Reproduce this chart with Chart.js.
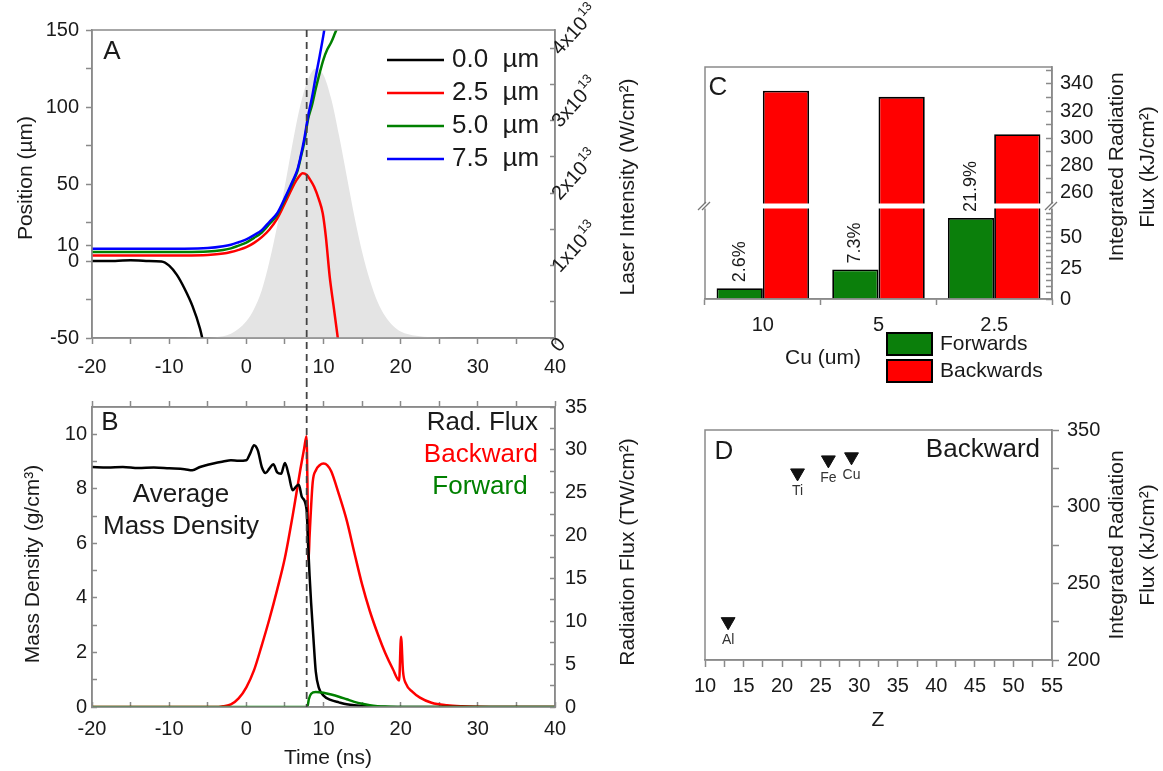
<!DOCTYPE html>
<html>
<head>
<meta charset="utf-8">
<script src="https://cdn.jsdelivr.net/npm/chart.js@4.4.1/dist/chart.umd.min.js"></script>
<style>
  body { margin: 0; background: #fff; width: 1163px; height: 771px; position: relative; overflow: hidden; }
  canvas { position: absolute; }
</style>
</head>
<body>
<canvas id="chartA" width="690" height="380" style="left:0;top:0;width:690px;height:380px"></canvas>
<canvas id="chartB" width="690" height="391" style="left:0;top:380px;width:690px;height:391px"></canvas>
<canvas id="chartC" width="483" height="400" style="left:680px;top:0;width:483px;height:400px"></canvas>
<canvas id="chartD" width="483" height="371" style="left:680px;top:400px;width:483px;height:371px"></canvas>
<script>
// ---- panel A: front position for each Cu thickness + laser pulse ----
const thicknessLabels = ['0.0  µm', '2.5  µm', '5.0  µm', '7.5  µm'];
const thicknessColors = ['#000000', '#ff0000', '#008000', '#0000ff'];

const t00 = [-20, -17, -15, -13, -11, -10, -9, -8, -7, -6, -5.5, -5];
const pos00 = [0, 0, 0.5, 0, -0.3, -3, -9, -18, -29, -44, -55, -67];

const t25 = [-20, -8, -5, -3, -2, -1, 0, 1, 2, 3, 4, 5, 6, 6.5, 7, 7.3, 7.8, 8.3, 8.8, 9.4, 9.9, 10.3, 10.8, 11.3, 11.8, 12.3];
const pos25 = [3.6, 3.6, 3.9, 4.8, 5.8, 7.2, 9, 11.8, 15.5, 20.5, 27.5, 37.5, 48, 52.5, 56, 57, 56, 52.5, 48, 40, 31, 16, -10, -29, -48, -67];

const t50 = [-20, -8, -5, -3, -2, -1, 0, 1, 2, 3, 4, 5, 6, 6.6, 7, 7.5, 8, 8.5, 9, 9.5, 10, 10.5, 11, 11.5, 12];
const pos50 = [5.8, 5.8, 6.1, 7.2, 8.2, 10, 12, 15, 18.5, 24, 30, 40, 51, 58, 66, 77, 92, 101, 112, 122, 131, 137.5, 142, 148, 154];

const t75 = [-20, -8, -5, -3, -2, -1, 0, 1, 2, 3, 4, 5, 6, 6.6, 7, 7.5, 8, 8.5, 9, 9.5, 10, 10.4];
const pos75 = [8, 8, 8.4, 9.6, 10.6, 12.2, 14, 16.8, 20, 25.5, 31, 41, 52, 59, 67, 79, 94, 106, 120, 133, 147, 160];

// laser intensity, units of 1e13 W/cm2
const laserTime = [-8, -6, -4, -2, 0, 1, 2, 3, 4, 5, 6, 7, 8, 9, 10, 11, 12, 13, 14, 15, 16, 17, 18, 19, 20, 22, 24, 26, 28];
const laserIntensity = [0, 0.002, 0.011, 0.058, 0.23, 0.4, 0.66, 1.06, 1.55, 2.1, 2.69, 3.21, 3.57, 3.72, 3.63, 3.3, 2.8, 2.24, 1.68, 1.19, 0.8, 0.5, 0.3, 0.17, 0.09, 0.03, 0.01, 0.003, 0];

const dashedTime = 7.82;

const timeTicks = [-20, -10, 0, 10, 20, 30, 40];
const timeMinorTicks = [-15, -5, 5, 15, 25, 35];
const positionTicks = [-50, 0, 10, 50, 100, 150];
const positionMinorTicks = [-25, 25, 75, 125];
const intensityTicks = [0, 1, 2, 3, 4];
const intensityMinorTicks = [0.5, 1.5, 2.5, 3.5];

// ---- panel B: mass density and radiation flux ----
const tDensity = [-20, -18, -16, -14, -12, -10, -8, -7, -6, -5, -4, -3, -2, -1, 0, 0.5, 1, 1.5, 2, 2.5, 3, 3.5, 4, 4.5, 5, 5.5, 6, 6.5, 6.8, 7.2, 7.8, 8.0, 8.2, 8.4, 8.7, 9.0, 9.4, 10, 11, 12, 13, 14, 15, 17, 20, 30, 40];
const massDensity = [8.8, 8.78, 8.8, 8.76, 8.78, 8.75, 8.72, 8.68, 8.8, 8.88, 8.95, 9.0, 9.05, 9.03, 9.05, 9.3, 9.6, 9.4, 8.8, 8.58, 8.75, 8.9, 8.6, 8.55, 8.95, 8.5, 7.95, 8.1, 8.15, 7.7, 7.25, 6.0, 4.8, 3.8, 2.5, 1.3, 0.7, 0.42, 0.25, 0.17, 0.1, 0.06, 0.04, 0.01, 0, 0, 0];

const tBackward = [-20, -6, -4, -3, -2, -1, 0, 1, 2, 3, 4, 5, 6, 6.5, 7, 7.5, 7.8, 7.95, 8.05, 8.2, 8.6, 9, 9.5, 10, 10.5, 11, 12, 13, 14, 15, 16, 17, 18, 19, 19.8, 20.05, 20.3, 20.7, 21.5, 22.5, 24, 26, 28, 30, 33, 40];
const backwardFluxT = [0, 0, 0, 0.1, 0.3, 1.0, 2.3, 4.3, 7.2, 10.3, 13.7, 17.4, 22.3, 25, 27.7, 30.2, 31.6, 24, 17, 20, 26.2, 27.6, 28.2, 28.4, 28.2, 27.5, 24.8, 21.8, 18, 14.3, 11.2, 8.6, 6.3, 4.4, 3.1, 8.2, 4.2, 2.7, 1.8, 1.1, 0.5, 0.2, 0.08, 0.03, 0, 0];

const tForward = [-20, 7.9, 8.1, 8.4, 9, 10, 11, 12, 13, 14, 15, 16, 17, 18, 20, 25, 40];
const forwardFluxT = [0, 0, 0.9, 1.55, 1.75, 1.65, 1.45, 1.2, 0.9, 0.6, 0.37, 0.2, 0.1, 0.05, 0, 0, 0];

const densityTicks = [0, 2, 4, 6, 8, 10];
const densityMinorTicks = [1, 3, 5, 7, 9];
const fluxTicks = [0, 5, 10, 15, 20, 25, 30, 35];
const fluxMinorTicks = [2.5, 7.5, 12.5, 17.5, 22.5, 27.5, 32.5];

// ---- panel C: integrated flux vs Cu thickness ----
const cuThickness = ['10', '5', '2.5'];
const forwardIntegrated = [8.8, 24.1, 66.2];
const backwardIntegrated = [335, 330.5, 303];
const forwardShare = ['2.6%', '7.3%', '21.9%'];
const lowFluxMax = 76;
const lowFluxTicks = [0, 25, 50];
const lowFluxMinorTicks = [5, 10, 15, 20, 30, 35, 40, 45, 55, 60, 65, 70, 75];
const highFluxMin = 250;
const highFluxTicks = [260, 280, 300, 320, 340];
const highFluxMinorTicks = [270, 290, 310, 330, 350];

// ---- panel D: backward integrated flux vs Z ----
const elements = ['Al', 'Ti', 'Fe', 'Cu'];
const atomicNumber = [13, 22, 26, 29];
const backwardByZ = [225, 322, 330.5, 332.5];
const zTicks = [10, 15, 20, 25, 30, 35, 40, 45, 50, 55];
const zMinorTicks = [12.5, 17.5, 22.5, 27.5, 32.5, 37.5, 42.5, 47.5, 52.5];
const zFluxTicks = [200, 250, 300, 350];
const zFluxMinorTicks = [225, 275, 325];

// ------------------------------------------------------------------
const fontFamily = '"Liberation Sans", Arial, Helvetica, sans-serif';
const axisColor = '#8a8a8a';
const textColor = '#1a1a1a';
Chart.defaults.font.family = fontFamily;
Chart.defaults.color = textColor;
Chart.defaults.animation = false;
Chart.defaults.responsive = false;
Chart.defaults.plugins.legend.display = false;
Chart.defaults.plugins.tooltip.enabled = false;

const pts = (xs, ys) => xs.map((x, i) => ({ x, y: ys[i] }));

function linAxis({ position, min, max, major, minor, tl, pad = 4, size = 20, fit, labels = true, stack, stackWeight }) {
  const horizontal = position === 'top' || position === 'bottom';
  const cfg = {
    type: 'linear', position, min, max,
    border: { color: axisColor, width: 1.5 },
    grid: { drawOnChartArea: false, drawTicks: true, tickLength: tl, tickColor: axisColor, tickWidth: 1.5 },
    ticks: {
      display: labels, autoSkip: false, padding: pad, color: textColor, font: { family: fontFamily, size },
      minRotation: 0, maxRotation: 0,
      callback: v => major.includes(v) ? String(v) : ''
    },
    afterBuildTicks: s => { s.ticks = major.concat(minor).sort((a, b) => a - b).map(v => ({ value: v })); },
    afterFit: s => { if (horizontal) s.height = fit; else s.width = fit; }
  };
  if (stack) { cfg.stack = stack; cfg.stackWeight = stackWeight; }
  return cfg;
}

function txt(ctx, s, x, y, size, opts = {}) {
  ctx.save();
  ctx.font = `${size}px ${fontFamily}`;
  ctx.fillStyle = opts.color || textColor;
  ctx.textAlign = opts.align || 'center';
  ctx.textBaseline = opts.baseline || 'middle';
  ctx.translate(x, y);
  if (opts.rot) ctx.rotate(opts.rot);
  ctx.fillText(s, 0, 0);
  ctx.restore();
}

function frame(ctx, a) {
  ctx.save();
  ctx.strokeStyle = axisColor;
  ctx.lineWidth = 1.5;
  ctx.strokeRect(a.left, a.top, a.right - a.left, a.bottom - a.top);
  ctx.restore();
}

function dashed(ctx, x, y1, y2) {
  ctx.save();
  ctx.strokeStyle = '#444';
  ctx.lineWidth = 1.8;
  ctx.setLineDash([7, 5]);
  ctx.beginPath();
  ctx.moveTo(x, y1);
  ctx.lineTo(x, y2);
  ctx.stroke();
  ctx.restore();
}

const UP = -Math.PI / 2;

// ---------------- chart A ----------------
const lineSet = (label, xs, ys, color, order) => ({
  label, data: pts(xs, ys), borderColor: color, borderWidth: 2.5, pointRadius: 0,
  cubicInterpolationMode: 'monotone', yAxisID: 'y', order
});

new Chart(document.getElementById('chartA'), {
  type: 'line',
  data: {
    datasets: [
      { label: 'laser', data: pts(laserTime, laserIntensity), yAxisID: 'yI', fill: 'origin',
        backgroundColor: '#e4e4e4', borderWidth: 0, pointRadius: 0, cubicInterpolationMode: 'monotone', order: 10 },
      lineSet(thicknessLabels[0], t00, pos00, thicknessColors[0], 4),
      lineSet(thicknessLabels[1], t25, pos25, thicknessColors[1], 3),
      lineSet(thicknessLabels[2], t50, pos50, thicknessColors[2], 2),
      lineSet(thicknessLabels[3], t75, pos75, thicknessColors[3], 1)
    ]
  },
  options: {
    layout: { padding: { top: 30, left: 0, right: 0, bottom: 0 } },
    scales: {
      x: linAxis({ position: 'bottom', min: -20, max: 40, major: timeTicks, minor: timeMinorTicks, tl: 6, pad: 11, fit: 42 }),
      y: linAxis({ position: 'left', min: -50, max: 150, major: positionTicks, minor: positionMinorTicks, tl: 6, pad: 7, fit: 92 }),
      yI: linAxis({ position: 'right', min: 0, max: 4.25, major: intensityTicks, minor: intensityMinorTicks, tl: -5, labels: false, fit: 135 })
    }
  },
  plugins: [{
    id: 'panelA',
    afterDraw(chart) {
      const { ctx, chartArea: a, scales } = chart;
      frame(ctx, a);
      dashed(ctx, scales.x.getPixelForValue(dashedTime), a.top, chart.height);
      // rotated intensity labels with superscript exponent
      intensityTicks.forEach(v => {
        const y = scales.yI.getPixelForValue(v);
        ctx.save();
        ctx.fillStyle = textColor;
        ctx.textAlign = 'left';
        ctx.textBaseline = 'alphabetic';
        if (v === 0) ctx.translate(a.right + 4, y + 15); else ctx.translate(a.right + 5, y + 8);
        ctx.rotate(-48 * Math.PI / 180);
        ctx.font = `20px ${fontFamily}`;
        if (v === 0) {
          ctx.fillText('0', 0, 0);
        } else {
          const base = v + 'x10';
          ctx.fillText(base, 0, 0);
          const w = ctx.measureText(base).width;
          ctx.font = `13px ${fontFamily}`;
          ctx.fillText('13', w + 1, -9);
        }
        ctx.restore();
      });
      // legend
      thicknessLabels.forEach((lab, i) => {
        const y = 60 + i * 33;
        ctx.save();
        ctx.strokeStyle = thicknessColors[i];
        ctx.lineWidth = 2.5;
        ctx.beginPath(); ctx.moveTo(387, y); ctx.lineTo(444, y); ctx.stroke();
        ctx.restore();
        txt(ctx, lab, 452, y, 26, { align: 'left' });
      });
      txt(ctx, 'A', 112, 52, 26);
      txt(ctx, 'Position (µm)', 26, 178, 21, { rot: UP });
      txt(ctx, 'Laser Intensity (W/cm²)', 628, 187, 21, { rot: UP });
    }
  }]
});

// ---------------- chart B ----------------
new Chart(document.getElementById('chartB'), {
  type: 'line',
  data: {
    datasets: [
      { label: 'Backward', data: pts(tBackward, backwardFluxT), yAxisID: 'yR', borderColor: '#ff0000', borderWidth: 2.5,
        pointRadius: 0, cubicInterpolationMode: 'monotone', order: 3 },
      { label: 'Average Mass Density', data: pts(tDensity, massDensity), yAxisID: 'y', borderColor: '#000000', borderWidth: 2.5,
        pointRadius: 0, cubicInterpolationMode: 'monotone', order: 2 },
      { label: 'Forward', data: pts(tForward, forwardFluxT), yAxisID: 'yR', borderColor: '#008000', borderWidth: 2.5,
        pointRadius: 0, cubicInterpolationMode: 'monotone', order: 1 }
    ]
  },
  options: {
    layout: { padding: { top: 20, left: 0, right: 0, bottom: 0 } },
    scales: {
      x: linAxis({ position: 'bottom', min: -20, max: 40, major: timeTicks, minor: timeMinorTicks, tl: -5, pad: 15, fit: 64 }),
      x2: linAxis({ position: 'top', min: -20, max: 40, major: timeTicks, minor: timeMinorTicks, tl: 6, labels: false, fit: 0 }),
      y: linAxis({ position: 'left', min: 0, max: 11, major: densityTicks, minor: densityMinorTicks, tl: -5, pad: 10, fit: 92 }),
      yR: linAxis({ position: 'right', min: 0, max: 35, major: fluxTicks, minor: fluxMinorTicks, tl: -5, pad: 15, fit: 135 })
    }
  },
  plugins: [{
    id: 'panelB',
    afterDraw(chart) {
      const { ctx, chartArea: a, scales } = chart;
      frame(ctx, a);
      dashed(ctx, scales.x.getPixelForValue(dashedTime), 0, a.bottom);
      txt(ctx, 'B', 110, 43, 26);
      txt(ctx, 'Average', 181, 115, 26);
      txt(ctx, 'Mass Density', 181, 147, 26);
      txt(ctx, 'Rad. Flux', 538, 43, 26, { align: 'right' });
      txt(ctx, 'Backward', 538, 75, 26, { align: 'right', color: '#ff0000' });
      txt(ctx, 'Forward', 480, 107, 26, { color: '#008000' });
      txt(ctx, 'Mass Density (g/cm³)', 33, 184, 21, { rot: UP });
      txt(ctx, 'Radiation Flux (TW/cm²)', 628, 172, 21, { rot: UP });
      txt(ctx, 'Time (ns)', 328, 378, 21);
    }
  }]
});

// ---------------- chart C ----------------
const greenFill = '#0b7f0b';
const redFill = '#ff0000';
const barStyle = { borderColor: '#000', borderWidth: 1.8, categoryPercentage: 0.8, barPercentage: 1.0 };
new Chart(document.getElementById('chartC'), {
  type: 'bar',
  data: {
    labels: cuThickness,
    datasets: [
      Object.assign({ label: 'Forwards', data: forwardIntegrated, yAxisID: 'yLow', stack: 'fwd', backgroundColor: greenFill }, barStyle),
      // backward bars cross the axis break: lower part on the low scale, upper part on the high scale
      Object.assign({ label: 'Backwards', data: backwardIntegrated.map(v => Math.min(v, lowFluxMax)), yAxisID: 'yLow', stack: 'back', backgroundColor: redFill }, barStyle),
      Object.assign({ label: 'Backwards', data: backwardIntegrated, yAxisID: 'yHigh', stack: 'back', backgroundColor: redFill, base: highFluxMin }, barStyle)
    ]
  },
  options: {
    layout: { padding: { top: 67, left: 25, right: 0, bottom: 0 } },
    scales: {
      x: {
        type: 'category', position: 'bottom',
        border: { color: axisColor, width: 1.5 },
        grid: { drawOnChartArea: false, tickLength: 6, tickColor: axisColor, tickWidth: 1.5, offset: true },
        ticks: { padding: 8, color: textColor, font: { family: fontFamily, size: 20 }, maxRotation: 0 },
        afterFit: s => { s.height = 101; }
      },
      yHigh: linAxis({ position: 'right', min: highFluxMin, max: 352.5, major: highFluxTicks, minor: highFluxMinorTicks, tl: -6, pad: 14, fit: 111, stack: 'flux', stackWeight: 139 }),
      yLow: linAxis({ position: 'right', min: 0, max: lowFluxMax, major: lowFluxTicks, minor: lowFluxMinorTicks, tl: -6, pad: 14, fit: 111, stack: 'flux', stackWeight: 93 })
    }
  },
  plugins: [{
    id: 'panelC',
    afterDraw(chart) {
      const { ctx, chartArea: a, scales } = chart;
      const yb = scales.yLow.top;
      ctx.save();
      ctx.fillStyle = '#fff';
      ctx.fillRect(a.left + 1, yb - 2.5, a.right - a.left - 2, 5);
      ctx.restore();
      frame(ctx, a);
      // break marks
      [a.left, a.right].forEach(x => {
        ctx.save();
        ctx.fillStyle = '#fff';
        ctx.fillRect(x - 6, yb - 2.5, 12, 5);
        ctx.strokeStyle = '#777';
        ctx.lineWidth = 1.2;
        [-2, 2].forEach(k => {
          ctx.beginPath();
          ctx.moveTo(x - 5 + k, yb + 4);
          ctx.lineTo(x + 3 + k, yb - 4);
          ctx.stroke();
        });
        ctx.restore();
      });
      chart.getDatasetMeta(0).data.forEach((bar, i) => {
        txt(ctx, forwardShare[i], bar.x, bar.y - 6, 18, { align: 'left', rot: UP });
      });
      txt(ctx, 'C', 38, 88, 26);
      txt(ctx, 'Cu (um)', 143, 358, 21);
      // legend
      [[greenFill, 'Forwards', 333], [redFill, 'Backwards', 360]].forEach(([c, lab, y]) => {
        ctx.save();
        ctx.fillStyle = c;
        ctx.strokeStyle = '#000';
        ctx.lineWidth = 2;
        ctx.fillRect(207, y, 45, 22);
        ctx.strokeRect(207, y, 45, 22);
        ctx.restore();
        txt(ctx, lab, 260, y + 11, 21, { align: 'left' });
      });
      txt(ctx, 'Integrated Radiation', 437, 167, 21, { rot: UP });
      txt(ctx, 'Flux (kJ/cm²)', 468, 167, 21, { rot: UP });
    }
  }]
});

// ---------------- chart D ----------------
new Chart(document.getElementById('chartD'), {
  type: 'scatter',
  data: {
    datasets: [{
      label: 'Backward', data: pts(atomicNumber, backwardByZ),
      pointStyle: 'triangle', rotation: 180, radius: 8, backgroundColor: '#111', borderColor: '#111', borderWidth: 1
    }]
  },
  options: {
    layout: { padding: { top: 30, left: 25, right: 0, bottom: 0 } },
    scales: {
      x: linAxis({ position: 'bottom', min: 10, max: 55, major: zTicks, minor: zMinorTicks, tl: 7, pad: 7, fit: 111 }),
      y: linAxis({ position: 'right', min: 200, max: 350, major: zFluxTicks, minor: zFluxMinorTicks, tl: 7, pad: 8, fit: 111 })
    }
  },
  plugins: [{
    id: 'panelD',
    afterDraw(chart) {
      const { ctx, chartArea: a } = chart;
      frame(ctx, a);
      chart.getDatasetMeta(0).data.forEach((p, i) => {
        txt(ctx, elements[i], p.x, p.y + 18, 14, { color: '#333' });
      });
      txt(ctx, 'D', 44, 52, 26);
      txt(ctx, 'Backward', 360, 50, 26, { align: 'right' });
      txt(ctx, 'Z', 198, 320, 21);
      txt(ctx, 'Integrated Radiation', 437, 145, 21, { rot: UP });
      txt(ctx, 'Flux (kJ/cm²)', 468, 145, 21, { rot: UP });
    }
  }]
});
</script>
</body>
</html>
